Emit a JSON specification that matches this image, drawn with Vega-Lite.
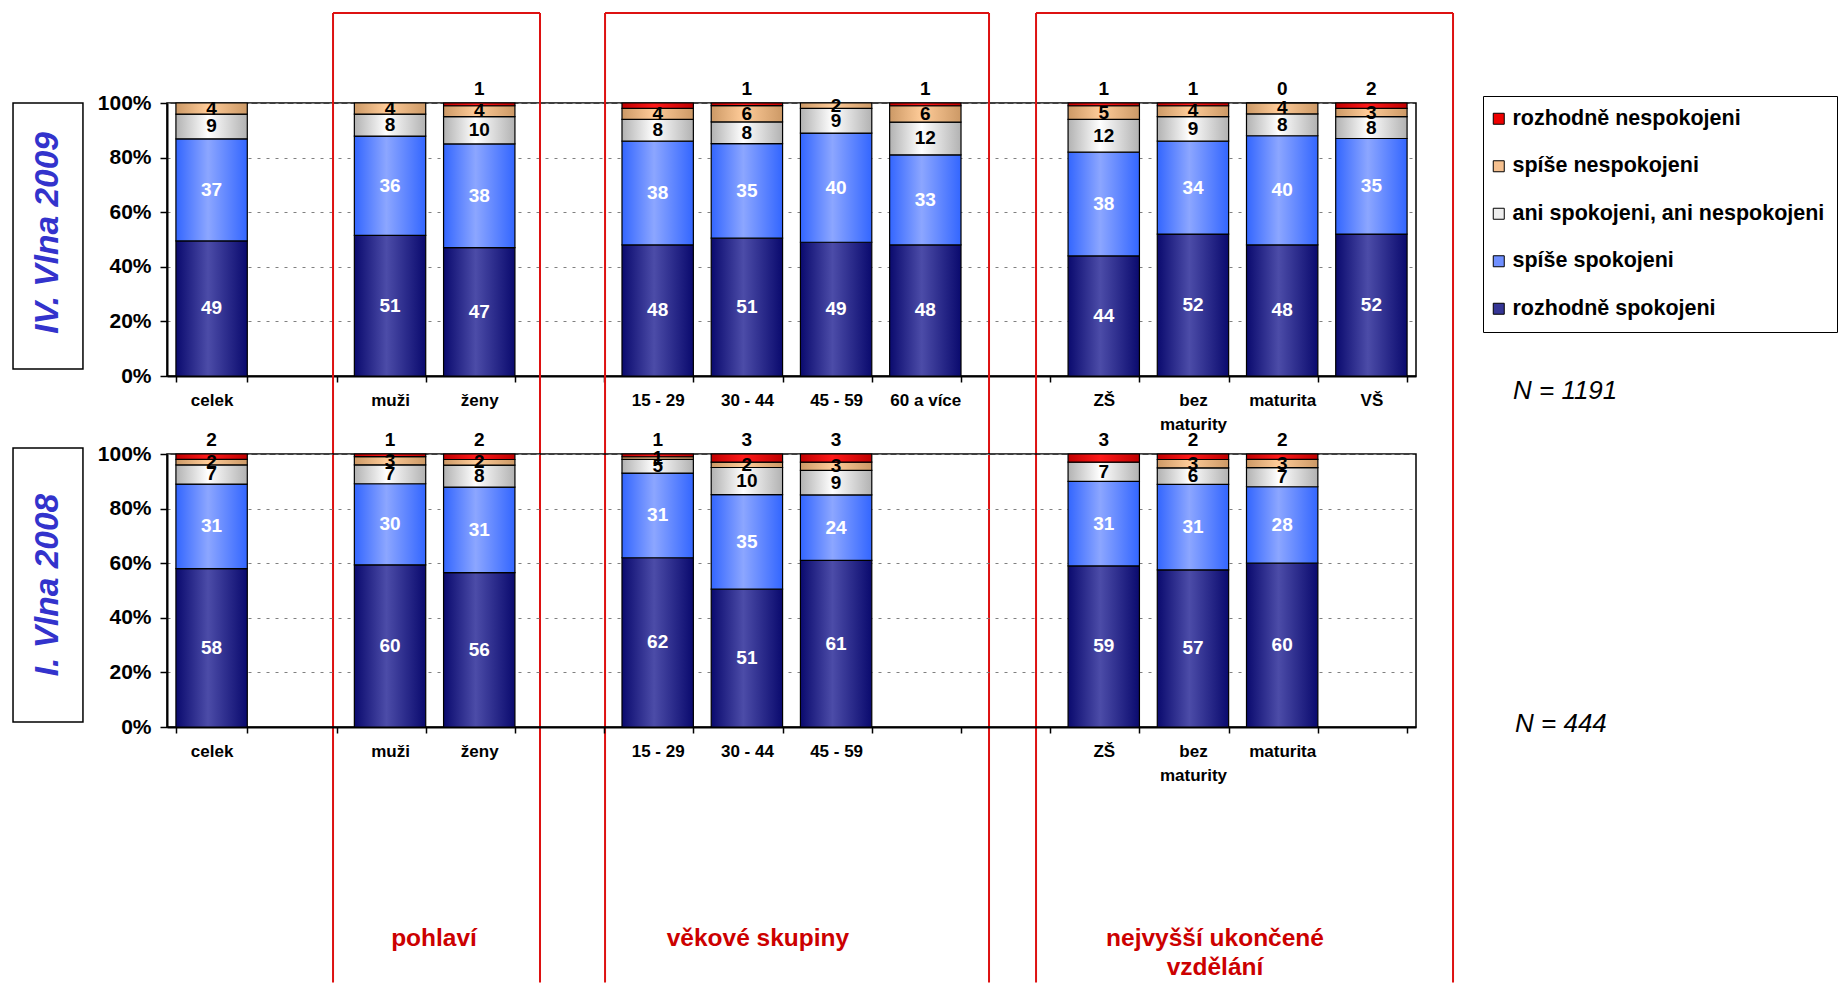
{
  "$schema": "https://vega.github.io/schema/vega-lite/v6.json",
  "background": "white",
  "autosize": {"type": "pad"},
  "padding": {"left": 11, "top": 11, "right": 0, "bottom": 0},
  "config": {
    "font": "Liberation Sans",
    "view": {"stroke": "black", "strokeWidth": 1.5},
    "axis": {"labelFont": "Liberation Sans"},
    "legend": {"labelFont": "Liberation Sans"}
  },
  "datasets": {
    "iv": [
      {"g": "celek", "r": "rozhodně spokojeni", "k": 1, "v": 49},
      {"g": "celek", "r": "spíše spokojeni", "k": 2, "v": 37},
      {"g": "celek", "r": "ani spokojeni, ani nespokojeni", "k": 3, "v": 9},
      {"g": "celek", "r": "spíše nespokojeni", "k": 4, "v": 4},
      {"g": "muži", "r": "rozhodně spokojeni", "k": 1, "v": 51},
      {"g": "muži", "r": "spíše spokojeni", "k": 2, "v": 36},
      {"g": "muži", "r": "ani spokojeni, ani nespokojeni", "k": 3, "v": 8},
      {"g": "muži", "r": "spíše nespokojeni", "k": 4, "v": 4},
      {"g": "ženy", "r": "rozhodně spokojeni", "k": 1, "v": 47},
      {"g": "ženy", "r": "spíše spokojeni", "k": 2, "v": 38},
      {"g": "ženy", "r": "ani spokojeni, ani nespokojeni", "k": 3, "v": 10},
      {"g": "ženy", "r": "spíše nespokojeni", "k": 4, "v": 4},
      {"g": "ženy", "r": "rozhodně nespokojeni", "k": 5, "v": 1},
      {"g": "15 - 29", "r": "rozhodně spokojeni", "k": 1, "v": 48},
      {"g": "15 - 29", "r": "spíše spokojeni", "k": 2, "v": 38},
      {"g": "15 - 29", "r": "ani spokojeni, ani nespokojeni", "k": 3, "v": 8},
      {"g": "15 - 29", "r": "spíše nespokojeni", "k": 4, "v": 4},
      {"g": "15 - 29", "r": "rozhodně nespokojeni", "k": 5, "v": 2, "hide": true},
      {"g": "30 - 44", "r": "rozhodně spokojeni", "k": 1, "v": 51},
      {"g": "30 - 44", "r": "spíše spokojeni", "k": 2, "v": 35},
      {"g": "30 - 44", "r": "ani spokojeni, ani nespokojeni", "k": 3, "v": 8},
      {"g": "30 - 44", "r": "spíše nespokojeni", "k": 4, "v": 6},
      {"g": "30 - 44", "r": "rozhodně nespokojeni", "k": 5, "v": 1},
      {"g": "45 - 59", "r": "rozhodně spokojeni", "k": 1, "v": 49},
      {"g": "45 - 59", "r": "spíše spokojeni", "k": 2, "v": 40},
      {"g": "45 - 59", "r": "ani spokojeni, ani nespokojeni", "k": 3, "v": 9},
      {"g": "45 - 59", "r": "spíše nespokojeni", "k": 4, "v": 2},
      {"g": "60 a více", "r": "rozhodně spokojeni", "k": 1, "v": 48},
      {"g": "60 a více", "r": "spíše spokojeni", "k": 2, "v": 33},
      {"g": "60 a více", "r": "ani spokojeni, ani nespokojeni", "k": 3, "v": 12},
      {"g": "60 a více", "r": "spíše nespokojeni", "k": 4, "v": 6},
      {"g": "60 a více", "r": "rozhodně nespokojeni", "k": 5, "v": 1},
      {"g": "ZŠ", "r": "rozhodně spokojeni", "k": 1, "v": 44},
      {"g": "ZŠ", "r": "spíše spokojeni", "k": 2, "v": 38},
      {"g": "ZŠ", "r": "ani spokojeni, ani nespokojeni", "k": 3, "v": 12},
      {"g": "ZŠ", "r": "spíše nespokojeni", "k": 4, "v": 5},
      {"g": "ZŠ", "r": "rozhodně nespokojeni", "k": 5, "v": 1},
      {"g": "bez maturity", "r": "rozhodně spokojeni", "k": 1, "v": 52},
      {"g": "bez maturity", "r": "spíše spokojeni", "k": 2, "v": 34},
      {"g": "bez maturity", "r": "ani spokojeni, ani nespokojeni", "k": 3, "v": 9},
      {"g": "bez maturity", "r": "spíše nespokojeni", "k": 4, "v": 4},
      {"g": "bez maturity", "r": "rozhodně nespokojeni", "k": 5, "v": 1},
      {"g": "maturita", "r": "rozhodně spokojeni", "k": 1, "v": 48},
      {"g": "maturita", "r": "spíše spokojeni", "k": 2, "v": 40},
      {"g": "maturita", "r": "ani spokojeni, ani nespokojeni", "k": 3, "v": 8},
      {"g": "maturita", "r": "spíše nespokojeni", "k": 4, "v": 4},
      {"g": "maturita", "r": "rozhodně nespokojeni", "k": 5, "v": 0},
      {"g": "VŠ", "r": "rozhodně spokojeni", "k": 1, "v": 52},
      {"g": "VŠ", "r": "spíše spokojeni", "k": 2, "v": 35},
      {"g": "VŠ", "r": "ani spokojeni, ani nespokojeni", "k": 3, "v": 8},
      {"g": "VŠ", "r": "spíše nespokojeni", "k": 4, "v": 3},
      {"g": "VŠ", "r": "rozhodně nespokojeni", "k": 5, "v": 2}
    ],
    "i": [
      {"g": "celek", "r": "rozhodně spokojeni", "k": 1, "v": 58},
      {"g": "celek", "r": "spíše spokojeni", "k": 2, "v": 31},
      {"g": "celek", "r": "ani spokojeni, ani nespokojeni", "k": 3, "v": 7},
      {"g": "celek", "r": "spíše nespokojeni", "k": 4, "v": 2},
      {"g": "celek", "r": "rozhodně nespokojeni", "k": 5, "v": 2},
      {"g": "muži", "r": "rozhodně spokojeni", "k": 1, "v": 60},
      {"g": "muži", "r": "spíše spokojeni", "k": 2, "v": 30},
      {"g": "muži", "r": "ani spokojeni, ani nespokojeni", "k": 3, "v": 7},
      {"g": "muži", "r": "spíše nespokojeni", "k": 4, "v": 3},
      {"g": "muži", "r": "rozhodně nespokojeni", "k": 5, "v": 1},
      {"g": "ženy", "r": "rozhodně spokojeni", "k": 1, "v": 56},
      {"g": "ženy", "r": "spíše spokojeni", "k": 2, "v": 31},
      {"g": "ženy", "r": "ani spokojeni, ani nespokojeni", "k": 3, "v": 8},
      {"g": "ženy", "r": "spíše nespokojeni", "k": 4, "v": 2},
      {"g": "ženy", "r": "rozhodně nespokojeni", "k": 5, "v": 2},
      {"g": "15 - 29", "r": "rozhodně spokojeni", "k": 1, "v": 62},
      {"g": "15 - 29", "r": "spíše spokojeni", "k": 2, "v": 31},
      {"g": "15 - 29", "r": "ani spokojeni, ani nespokojeni", "k": 3, "v": 5},
      {"g": "15 - 29", "r": "spíše nespokojeni", "k": 4, "v": 1},
      {"g": "15 - 29", "r": "rozhodně nespokojeni", "k": 5, "v": 1},
      {"g": "30 - 44", "r": "rozhodně spokojeni", "k": 1, "v": 51},
      {"g": "30 - 44", "r": "spíše spokojeni", "k": 2, "v": 35},
      {"g": "30 - 44", "r": "ani spokojeni, ani nespokojeni", "k": 3, "v": 10},
      {"g": "30 - 44", "r": "spíše nespokojeni", "k": 4, "v": 2},
      {"g": "30 - 44", "r": "rozhodně nespokojeni", "k": 5, "v": 3},
      {"g": "45 - 59", "r": "rozhodně spokojeni", "k": 1, "v": 61},
      {"g": "45 - 59", "r": "spíše spokojeni", "k": 2, "v": 24},
      {"g": "45 - 59", "r": "ani spokojeni, ani nespokojeni", "k": 3, "v": 9},
      {"g": "45 - 59", "r": "spíše nespokojeni", "k": 4, "v": 3},
      {"g": "45 - 59", "r": "rozhodně nespokojeni", "k": 5, "v": 3},
      {"g": "ZŠ", "r": "rozhodně spokojeni", "k": 1, "v": 59},
      {"g": "ZŠ", "r": "spíše spokojeni", "k": 2, "v": 31},
      {"g": "ZŠ", "r": "ani spokojeni, ani nespokojeni", "k": 3, "v": 7},
      {"g": "ZŠ", "r": "rozhodně nespokojeni", "k": 5, "v": 3},
      {"g": "bez maturity", "r": "rozhodně spokojeni", "k": 1, "v": 57},
      {"g": "bez maturity", "r": "spíše spokojeni", "k": 2, "v": 31},
      {"g": "bez maturity", "r": "ani spokojeni, ani nespokojeni", "k": 3, "v": 6},
      {"g": "bez maturity", "r": "spíše nespokojeni", "k": 4, "v": 3},
      {"g": "bez maturity", "r": "rozhodně nespokojeni", "k": 5, "v": 2},
      {"g": "maturita", "r": "rozhodně spokojeni", "k": 1, "v": 60},
      {"g": "maturita", "r": "spíše spokojeni", "k": 2, "v": 28},
      {"g": "maturita", "r": "ani spokojeni, ani nespokojeni", "k": 3, "v": 7},
      {"g": "maturita", "r": "spíše nespokojeni", "k": 4, "v": 3},
      {"g": "maturita", "r": "rozhodně nespokojeni", "k": 5, "v": 2}
    ]
  },
  "spacing": 78,
  "bounds": "flush",
  "resolve": {"scale": {"color": "shared"}},
  "vconcat": [
    {
      "width": 1249,
      "height": 273,
      "resolve": {"scale": {"x": "independent", "y": "independent"}, "axis": {"x": "independent", "y": "independent"}},
      "layer": [
        {
          "data": {"name": "iv"},
          "encoding": {
            "x": {"field": "g", "type": "nominal", "title": null, "sort": null,
              "scale": {"domain": ["celek", " ", "muži", "ženy", "  ", "15 - 29", "30 - 44", "45 - 59", "60 a více", "   ", "ZŠ", "bez maturity", "maturita", "VŠ"], "paddingInner": 0.2, "paddingOuter": 0.1},
              "axis": {"title": null, "labelAngle": 0, "labelFontSize": 17, "labelFontWeight": "bold", "labelColor": "black", "tickBand": "extent", "tickSize": 6, "tickColor": "black", "tickWidth": 1.5, "domainColor": "black", "domainWidth": 2, "labelPadding": 10, "labelExpr": "datum.value == 'bez maturity' ? ['bez', 'maturity'] : datum.value", "labelLineHeight": 24, "labelOverlap": false, "labelLimit": 300, "grid": false}}
          },
          "layer": [
            {
              "mark": {"type": "bar", "stroke": "black", "strokeWidth": 1.2},
              "encoding": {
                "y": {"field": "v", "type": "quantitative", "stack": "normalize", "title": null, "scale": {"domain": [0, 1], "nice": false},
                  "axis": {"values": [0, 0.2, 0.4, 0.6, 0.8, 1], "format": ".0%", "labelFontSize": 21, "labelFontWeight": "bold", "labelColor": "black", "tickSize": 7, "tickColor": "black", "tickWidth": 1.5, "domainColor": "black", "domainWidth": 2, "labelPadding": 9, "grid": true, "gridColor": "#808080", "gridDash": [3, 6], "gridWidth": 1, "title": null}},
                "order": {"field": "k", "type": "quantitative"},
                "color": {
                  "field": "r", "type": "nominal",
                  "scale": {"domain": ["rozhodně nespokojeni", "spíše nespokojeni", "ani spokojeni, ani nespokojeni", "spíše spokojeni", "rozhodně spokojeni"], "range": ["#EE0000", "#F5C08F", "#EEEEEE", "#6F8FFF", "#353595"]},
                  "legend": {"title": null, "orient": "none", "legendX": 1316, "legendY": -7, "direction": "vertical", "symbolType": "square", "symbolSize": 121, "symbolStrokeColor": "black", "symbolStrokeWidth": 1, "symbolOffset": -7, "labelFontSize": 21.5, "labelFontWeight": "bold", "labelColor": "black", "labelLimit": 400, "labelOffset": 3, "rowPadding": 24.5, "padding": 12, "strokeColor": "black", "fillColor": "white"},
                  "condition": [
                    {"test": "datum.k == 1", "value": {"gradient": "linear", "x1": 0, "y1": 0, "x2": 1, "y2": 0, "stops": [{"offset": 0, "color": "#0A0A6E"}, {"offset": 0.45, "color": "#4C4CA8"}, {"offset": 1, "color": "#0A0A6E"}]}},
                    {"test": "datum.k == 2", "value": {"gradient": "linear", "x1": 0, "y1": 0, "x2": 1, "y2": 0, "stops": [{"offset": 0, "color": "#3366FF"}, {"offset": 0.45, "color": "#8CA6FF"}, {"offset": 1, "color": "#3366FF"}]}},
                    {"test": "datum.k == 3", "value": {"gradient": "linear", "x1": 0, "y1": 0, "x2": 1, "y2": 0, "stops": [{"offset": 0, "color": "#B2B2B2"}, {"offset": 0.45, "color": "#FFFFFF"}, {"offset": 1, "color": "#B2B2B2"}]}},
                    {"test": "datum.k == 4", "value": {"gradient": "linear", "x1": 0, "y1": 0, "x2": 1, "y2": 0, "stops": [{"offset": 0, "color": "#CC9966"}, {"offset": 0.45, "color": "#FFCC99"}, {"offset": 1, "color": "#CC9966"}]}},
                    {"test": "datum.k == 5", "value": {"gradient": "linear", "x1": 0, "y1": 0, "x2": 1, "y2": 0, "stops": [{"offset": 0, "color": "#C00000"}, {"offset": 0.45, "color": "#FF1A1A"}, {"offset": 1, "color": "#C00000"}]}}
                  ]
                }
              }
            },
            {
              "mark": {"type": "text", "fontWeight": "bold", "fontSize": 19, "baseline": "middle"},
              "encoding": {
                "y": {"field": "v", "type": "quantitative", "stack": "normalize", "bandPosition": 0.5, "title": null},
                "order": {"field": "k", "type": "quantitative"},
                "detail": {"field": "r", "type": "nominal"},
                "text": {"condition": {"test": "datum.k == 5", "value": ""}, "field": "v", "type": "quantitative"},
                "color": {"condition": {"test": "datum.k <= 2", "value": "white"}, "value": "black"}
              }
            },
            {
              "transform": [{"filter": "datum.k == 5 && !datum.hide"}],
              "mark": {"type": "text", "fontWeight": "bold", "fontSize": 19, "baseline": "middle", "dy": -14, "color": "black"},
              "encoding": {
                "y": {"datum": 1, "type": "quantitative"},
                "text": {"field": "v", "type": "quantitative"}
              }
            }
          ]
        },
        {
          "data": {"values": [{}]},
          "layer": [
            {"mark": {"type": "rule", "color": "#DD1111", "strokeWidth": 2},
             "encoding": {"x": {"datum": 1.861, "type": "quantitative", "scale": {"domain": [0, 14], "nice": false, "zero": false}, "axis": null},
                          "y": {"datum": 1.3297, "type": "quantitative", "scale": {"domain": [0, 1], "nice": false, "zero": false}, "axis": null},
                          "y2": {"datum": -2.222}}},
            {"mark": {"type": "rule", "color": "#DD1111", "strokeWidth": 2},
             "encoding": {"x": {"datum": 4.181, "type": "quantitative", "scale": {"domain": [0, 14], "nice": false, "zero": false}, "axis": null},
                          "y": {"datum": 1.3297, "type": "quantitative", "scale": {"domain": [0, 1], "nice": false, "zero": false}, "axis": null},
                          "y2": {"datum": -2.222}}},
            {"mark": {"type": "rule", "color": "#DD1111", "strokeWidth": 2},
             "encoding": {"x": {"datum": 1.861, "type": "quantitative", "scale": {"domain": [0, 14], "nice": false, "zero": false}, "axis": null},
                          "x2": {"datum": 4.181},
                          "y": {"datum": 1.3297, "type": "quantitative", "scale": {"domain": [0, 1], "nice": false, "zero": false}, "axis": null}}},
            {"mark": {"type": "rule", "color": "#DD1111", "strokeWidth": 2},
             "encoding": {"x": {"datum": 4.910, "type": "quantitative", "scale": {"domain": [0, 14], "nice": false, "zero": false}, "axis": null},
                          "y": {"datum": 1.3297, "type": "quantitative", "scale": {"domain": [0, 1], "nice": false, "zero": false}, "axis": null},
                          "y2": {"datum": -2.222}}},
            {"mark": {"type": "rule", "color": "#DD1111", "strokeWidth": 2},
             "encoding": {"x": {"datum": 9.214, "type": "quantitative", "scale": {"domain": [0, 14], "nice": false, "zero": false}, "axis": null},
                          "y": {"datum": 1.3297, "type": "quantitative", "scale": {"domain": [0, 1], "nice": false, "zero": false}, "axis": null},
                          "y2": {"datum": -2.222}}},
            {"mark": {"type": "rule", "color": "#DD1111", "strokeWidth": 2},
             "encoding": {"x": {"datum": 4.910, "type": "quantitative", "scale": {"domain": [0, 14], "nice": false, "zero": false}, "axis": null},
                          "x2": {"datum": 9.214},
                          "y": {"datum": 1.3297, "type": "quantitative", "scale": {"domain": [0, 1], "nice": false, "zero": false}, "axis": null}}},
            {"mark": {"type": "rule", "color": "#DD1111", "strokeWidth": 2},
             "encoding": {"x": {"datum": 9.741, "type": "quantitative", "scale": {"domain": [0, 14], "nice": false, "zero": false}, "axis": null},
                          "y": {"datum": 1.3297, "type": "quantitative", "scale": {"domain": [0, 1], "nice": false, "zero": false}, "axis": null},
                          "y2": {"datum": -2.222}}},
            {"mark": {"type": "rule", "color": "#DD1111", "strokeWidth": 2},
             "encoding": {"x": {"datum": 14.415, "type": "quantitative", "scale": {"domain": [0, 14], "nice": false, "zero": false}, "axis": null},
                          "y": {"datum": 1.3297, "type": "quantitative", "scale": {"domain": [0, 1], "nice": false, "zero": false}, "axis": null},
                          "y2": {"datum": -2.222}}},
            {"mark": {"type": "rule", "color": "#DD1111", "strokeWidth": 2},
             "encoding": {"x": {"datum": 9.741, "type": "quantitative", "scale": {"domain": [0, 14], "nice": false, "zero": false}, "axis": null},
                          "x2": {"datum": 14.415},
                          "y": {"datum": 1.3297, "type": "quantitative", "scale": {"domain": [0, 1], "nice": false, "zero": false}, "axis": null}}},
            {"mark": {"type": "rect", "filled": false, "color": "black", "strokeWidth": 1.5},
             "encoding": {"x": {"datum": -1.726, "type": "quantitative", "scale": {"domain": [0, 14], "nice": false, "zero": false}, "axis": null},
                          "x2": {"datum": -0.942},
                          "y": {"datum": 1.0, "type": "quantitative", "scale": {"domain": [0, 1], "nice": false, "zero": false}, "axis": null},
                          "y2": {"datum": 0.026}}},
            {"mark": {"type": "text", "angle": 270, "fontSize": 33.5, "fontWeight": "bold", "fontStyle": "italic", "color": "#3333CC", "align": "center", "baseline": "middle"},
             "encoding": {"x": {"datum": -1.334, "type": "quantitative", "scale": {"domain": [0, 14], "nice": false, "zero": false}, "axis": null},
                          "y": {"datum": 0.524, "type": "quantitative", "scale": {"domain": [0, 1], "nice": false, "zero": false}, "axis": null},
                          "text": {"value": "IV. Vlna 2009"}}},
            {"mark": {"type": "text", "fontSize": 26, "fontStyle": "italic", "color": "black", "align": "left", "baseline": "middle"},
             "encoding": {"x": {"datum": 15.087, "type": "quantitative", "scale": {"domain": [0, 14], "nice": false, "zero": false}, "axis": null},
                          "y": {"datum": -0.055, "type": "quantitative", "scale": {"domain": [0, 1], "nice": false, "zero": false}, "axis": null},
                          "text": {"value": "N = 1191"}}}
          ]
        }
      ]
    },
    {
      "width": 1249,
      "height": 273,
      "resolve": {"scale": {"x": "independent", "y": "independent"}, "axis": {"x": "independent", "y": "independent"}},
      "layer": [
        {
          "data": {"name": "i"},
          "encoding": {
            "x": {"field": "g", "type": "nominal", "title": null, "sort": null,
              "scale": {"domain": ["celek", " ", "muži", "ženy", "  ", "15 - 29", "30 - 44", "45 - 59", "60 a více", "   ", "ZŠ", "bez maturity", "maturita", "VŠ"], "paddingInner": 0.2, "paddingOuter": 0.1},
              "axis": {"title": null, "labelAngle": 0, "labelFontSize": 17, "labelFontWeight": "bold", "labelColor": "black", "tickBand": "extent", "tickSize": 6, "tickColor": "black", "tickWidth": 1.5, "domainColor": "black", "domainWidth": 2, "labelPadding": 10, "labelExpr": "datum.value == 'bez maturity' ? ['bez', 'maturity'] : (datum.value == '60 a více' || datum.value == 'VŠ' ? '' : datum.value)", "labelLineHeight": 24, "labelOverlap": false, "labelLimit": 300, "grid": false}}
          },
          "layer": [
            {
              "mark": {"type": "bar", "stroke": "black", "strokeWidth": 1.2},
              "encoding": {
                "y": {"field": "v", "type": "quantitative", "stack": "normalize", "title": null, "scale": {"domain": [0, 1], "nice": false},
                  "axis": {"values": [0, 0.2, 0.4, 0.6, 0.8, 1], "format": ".0%", "labelFontSize": 21, "labelFontWeight": "bold", "labelColor": "black", "tickSize": 7, "tickColor": "black", "tickWidth": 1.5, "domainColor": "black", "domainWidth": 2, "labelPadding": 9, "grid": true, "gridColor": "#808080", "gridDash": [3, 6], "gridWidth": 1, "title": null}},
                "order": {"field": "k", "type": "quantitative"},
                "color": {
                  "field": "r", "type": "nominal",
                  "scale": {"domain": ["rozhodně nespokojeni", "spíše nespokojeni", "ani spokojeni, ani nespokojeni", "spíše spokojeni", "rozhodně spokojeni"], "range": ["#EE0000", "#F5C08F", "#EEEEEE", "#6F8FFF", "#353595"]},
                  "legend": {"title": null, "orient": "none", "legendX": 1316, "legendY": -7, "direction": "vertical", "symbolType": "square", "symbolSize": 121, "symbolStrokeColor": "black", "symbolStrokeWidth": 1, "symbolOffset": -7, "labelFontSize": 21.5, "labelFontWeight": "bold", "labelColor": "black", "labelLimit": 400, "labelOffset": 3, "rowPadding": 24.5, "padding": 12, "strokeColor": "black", "fillColor": "white"},
                  "condition": [
                    {"test": "datum.k == 1", "value": {"gradient": "linear", "x1": 0, "y1": 0, "x2": 1, "y2": 0, "stops": [{"offset": 0, "color": "#0A0A6E"}, {"offset": 0.45, "color": "#4C4CA8"}, {"offset": 1, "color": "#0A0A6E"}]}},
                    {"test": "datum.k == 2", "value": {"gradient": "linear", "x1": 0, "y1": 0, "x2": 1, "y2": 0, "stops": [{"offset": 0, "color": "#3366FF"}, {"offset": 0.45, "color": "#8CA6FF"}, {"offset": 1, "color": "#3366FF"}]}},
                    {"test": "datum.k == 3", "value": {"gradient": "linear", "x1": 0, "y1": 0, "x2": 1, "y2": 0, "stops": [{"offset": 0, "color": "#B2B2B2"}, {"offset": 0.45, "color": "#FFFFFF"}, {"offset": 1, "color": "#B2B2B2"}]}},
                    {"test": "datum.k == 4", "value": {"gradient": "linear", "x1": 0, "y1": 0, "x2": 1, "y2": 0, "stops": [{"offset": 0, "color": "#CC9966"}, {"offset": 0.45, "color": "#FFCC99"}, {"offset": 1, "color": "#CC9966"}]}},
                    {"test": "datum.k == 5", "value": {"gradient": "linear", "x1": 0, "y1": 0, "x2": 1, "y2": 0, "stops": [{"offset": 0, "color": "#C00000"}, {"offset": 0.45, "color": "#FF1A1A"}, {"offset": 1, "color": "#C00000"}]}}
                  ]
                }
              }
            },
            {
              "mark": {"type": "text", "fontWeight": "bold", "fontSize": 19, "baseline": "middle"},
              "encoding": {
                "y": {"field": "v", "type": "quantitative", "stack": "normalize", "bandPosition": 0.5, "title": null},
                "order": {"field": "k", "type": "quantitative"},
                "detail": {"field": "r", "type": "nominal"},
                "text": {"condition": {"test": "datum.k == 5", "value": ""}, "field": "v", "type": "quantitative"},
                "color": {"condition": {"test": "datum.k <= 2", "value": "white"}, "value": "black"}
              }
            },
            {
              "transform": [{"filter": "datum.k == 5 && !datum.hide"}],
              "mark": {"type": "text", "fontWeight": "bold", "fontSize": 19, "baseline": "middle", "dy": -14, "color": "black"},
              "encoding": {
                "y": {"datum": 1, "type": "quantitative"},
                "text": {"field": "v", "type": "quantitative"}
              }
            }
          ]
        },
        {
          "data": {"values": [{}]},
          "layer": [
            {"mark": {"type": "rect", "filled": false, "color": "black", "strokeWidth": 1.5},
             "encoding": {"x": {"datum": -1.726, "type": "quantitative", "scale": {"domain": [0, 14], "nice": false, "zero": false}, "axis": null},
                          "x2": {"datum": -0.942},
                          "y": {"datum": 1.022, "type": "quantitative", "scale": {"domain": [0, 1], "nice": false, "zero": false}, "axis": null},
                          "y2": {"datum": 0.018}}},
            {"mark": {"type": "text", "angle": 270, "fontSize": 33.5, "fontWeight": "bold", "fontStyle": "italic", "color": "#3333CC", "align": "center", "baseline": "middle"},
             "encoding": {"x": {"datum": -1.334, "type": "quantitative", "scale": {"domain": [0, 14], "nice": false, "zero": false}, "axis": null},
                          "y": {"datum": 0.52, "type": "quantitative", "scale": {"domain": [0, 1], "nice": false, "zero": false}, "axis": null},
                          "text": {"value": "I. Vlna 2008"}}},
            {"mark": {"type": "text", "fontSize": 26, "fontStyle": "italic", "color": "black", "align": "left", "baseline": "middle"},
             "encoding": {"x": {"datum": 15.11, "type": "quantitative", "scale": {"domain": [0, 14], "nice": false, "zero": false}, "axis": null},
                          "y": {"datum": 0.011, "type": "quantitative", "scale": {"domain": [0, 1], "nice": false, "zero": false}, "axis": null},
                          "text": {"value": "N = 444"}}},
            {"mark": {"type": "text", "fontSize": 24.5, "fontWeight": "bold", "color": "#CC0000", "align": "center", "baseline": "middle"},
             "encoding": {"x": {"datum": 2.993, "type": "quantitative", "scale": {"domain": [0, 14], "nice": false, "zero": false}, "axis": null},
                          "y": {"datum": -0.7766, "type": "quantitative", "scale": {"domain": [0, 1], "nice": false, "zero": false}, "axis": null},
                          "text": {"value": "pohlaví"}}},
            {"mark": {"type": "text", "fontSize": 24.5, "fontWeight": "bold", "color": "#CC0000", "align": "center", "baseline": "middle"},
             "encoding": {"x": {"datum": 6.624, "type": "quantitative", "scale": {"domain": [0, 14], "nice": false, "zero": false}, "axis": null},
                          "y": {"datum": -0.7766, "type": "quantitative", "scale": {"domain": [0, 1], "nice": false, "zero": false}, "axis": null},
                          "text": {"value": "věkové skupiny"}}},
            {"mark": {"type": "text", "fontSize": 24.5, "fontWeight": "bold", "color": "#CC0000", "align": "center", "baseline": "middle", "lineHeight": 29},
             "encoding": {"x": {"datum": 11.747, "type": "quantitative", "scale": {"domain": [0, 14], "nice": false, "zero": false}, "axis": null},
                          "y": {"datum": -0.7766, "type": "quantitative", "scale": {"domain": [0, 1], "nice": false, "zero": false}, "axis": null},
                          "text": {"value": ["nejvyšší ukončené", "vzdělání"]}}}
          ]
        }
      ]
    }
  ]
}
